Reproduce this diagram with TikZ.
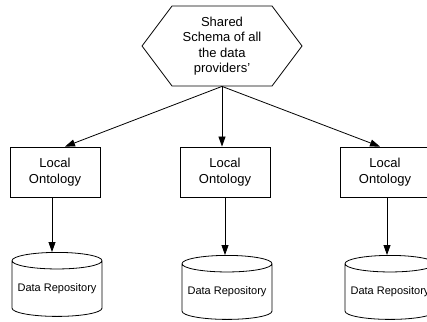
\documentclass[tikz,border=0pt]{standalone}
\usepackage{fontspec}
\setmainfont{Liberation Sans}
\usetikzlibrary{shapes.geometric,arrows.meta}

\begin{document}
\begin{tikzpicture}[x=1pt,y=1pt,
  line width=0.8pt,
  hextext/.style={align=center, inner sep=0pt, minimum height=80pt,
    font=\fontsize{13}{15.5}\selectfont},
  onto/.style={draw, rectangle, minimum width=90pt, minimum height=50pt,
    inner sep=0pt, align=center, font=\fontsize{13}{16.7}\selectfont},
  repo/.style={draw, cylinder, shape border rotate=90, aspect=0.21,
    minimum width=90pt, minimum height=64pt, inner sep=0pt,
    font=\fontsize{11}{13}\selectfont},
  link/.style={-{Triangle[length=10pt,width=7pt]}},
]
\useasboundingbox (0,0) rectangle (427,321);
\clip (0,0) rectangle (427,321);

% shared schema
\node[hextext] (hex) at (222,275) {Shared\\Schema of all\\the data\\providers'};
\draw (142,275) -- (172,315) -- (272,315) -- (302,275) -- (272,235) -- (172,235) -- cycle;

% local ontologies
\node[onto] (lo1) at (55,149) {Local\\Ontology};
\node[onto] (lo2) at (225,149) {Local\\Ontology};
\node[onto] (lo3) at (385,149) {Local\\Ontology};

% repositories
\node[repo, anchor=north] (db1) at (57,69) {Data Repository};
\node[repo, anchor=north] (db2) at (227,66) {Data Repository};
\node[repo, anchor=north] (db3) at (390,66) {Data Repository};

% connectors
\draw[link] (hex.south) -- ([xshift=10pt]lo1.north);
\draw[link] (hex.south) -- ([xshift=-3pt]lo2.north);
\draw[link] (hex.south) -- ([xshift=-5pt]lo3.north);
\draw[link] ([xshift=-3pt]lo1.south) -- ([xshift=-3pt]lo1.south |- db1.north);
\draw[link] (lo2.south) -- (lo2.south |- db2.north);
\draw[link] ([xshift=2pt]lo3.south) -- ([xshift=2pt]lo3.south |- db3.north);
\end{tikzpicture}
\end{document}
